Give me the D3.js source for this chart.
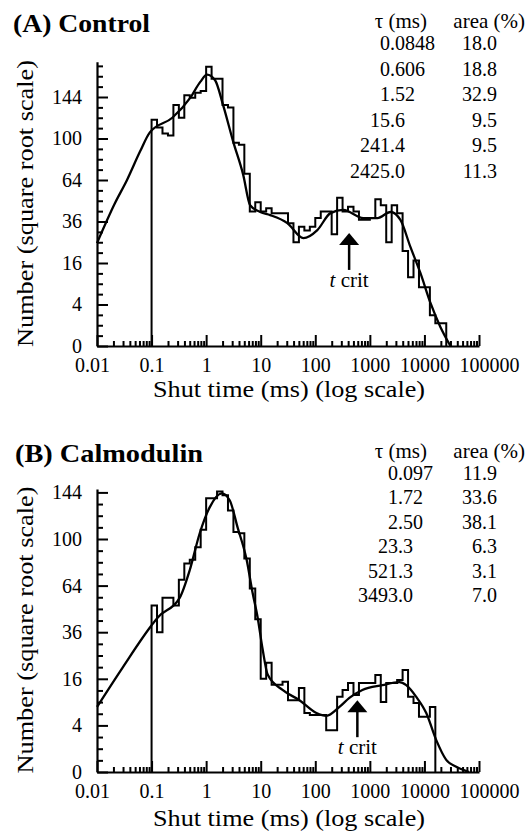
<!DOCTYPE html>
<html><head><meta charset="utf-8">
<script src="https://cdn.jsdelivr.net/npm/d3@7"></script>
<style>
body{margin:0;background:#fff}
svg{display:block}
</style>
</head><body>
<svg id="chart" width="529" height="834"></svg>
<script>
// ---------- DATA ----------
// histogram bins: first bin starts at 0.1 ms, each bin 0.1 log10 units wide
const binStartLog = -1;
const binWidthLog = 0.1;
const controlCounts = [119,111,105,103,135,121,146,143,149,151,
  181,166,166,135,132,96,94,69,42,48,
  42,44,41,41,41,35,25,33,31,33,
  38,42,42,29,51,42,45,42,37,37,
  38,50,46,25,46,41,21,11,17,8,
  8,2.2,1.2,1.2];
const calmodCounts = [51,36,56,56,51,68,80,83,93,108,
  138,138,145,141,126,106,105,84,62,43,
  16,22,14,14,15,9.5,9.5,13,6.4,6,
  6,6,3.2,3.2,10.4,12.4,14.6,10.9,14.6,14.6,
  14.6,17.3,9,14.6,14.6,15.6,19.2,10.4,8.8,5.6,
  5.6,7.8];
// fitted curves
const controlFitTimes  = [0.01,0.0214,0.0355,0.0617,0.093,0.24,0.51,0.78,1.04,1.46,2.04,3.13,4.78,6.4,9.8,14.9,30.7,60.7,109,190,326,760,1380,2390,3630,5530,8430,12900,19600,30000];
const controlFitCounts = [24.6,47.5,64,88,106,121,143,162,171,164,135,97,68,46,41.7,39.8,35.1,27,31.2,41,43,38,38,41.7,36.9,22.8,12.4,4.3,0.84,0];
const calmodFitTimes  = [0.01,0.0299,0.101,0.13,0.329,0.5,0.763,1.16,1.93,2.70,3.78,5.52,7.11,8.78,10.8,13.4,25.1,51.3,105,160,277,421,729,1690,3470,4640,7080,10800,16400,25100,38300,66000];
const calmodFitCounts = [7.8,20.3,39.8,44,56,75,105,129,143,136,110,83,59,44,28,17.5,12.4,9.5,6.4,5.8,7.8,10.1,12.4,13.9,14.9,13.9,10.4,6.4,1.9,0.27,0.05,0];
// axes
const yTickValues = [0,4,16,36,64,100,144];
const xTickValues = [0.01,0.1,1,10,100,1000,10000,100000];
const xTickLabels = ["0.01","0.1","1","10","100","1000","10000","100000"];
// tables
const controlTau  = ["0.0848","0.606","1.52","15.6","241.4","2425.0"];
const controlArea = ["18.0","18.8","32.9","9.5","9.5","11.3"];
const calmodTau   = ["0.097","1.72","2.50","23.3","521.3","3493.0"];
const calmodArea  = ["11.9","33.6","38.1","6.3","3.1","7.0"];
// t crit (ms) and arrow tip level (count)
const tCritMs = [417, 590];
const tCritTip = [29.7, 9.5];

// ---------- FONT PICK ----------
function hasFont(name) {
  const c = document.createElement("canvas").getContext("2d");
  const s = "0123456789 abcdefghijklmnopqrstuvwxyz ABCDEFGHIJ";
  c.font = "40px monospace"; const w1 = c.measureText(s).width;
  c.font = `40px "${name}", monospace`; const w2 = c.measureText(s).width;
  c.font = "40px sans-serif"; const w3 = c.measureText(s).width;
  c.font = `40px "${name}", sans-serif`; const w4 = c.measureText(s).width;
  return w1 !== w2 || w3 !== w4;
}
const fontCands = ["Liberation Serif","Tinos","Times New Roman","DejaVu Serif","Noto Serif"];
let FONT = "serif";
for (const f of fontCands) { if (hasFont(f)) { FONT = f; break; } }
// size factor so that digit widths match (Times-like digits are 0.5em wide)
const cctx = document.createElement("canvas").getContext("2d");
cctx.font = `100px "${FONT}", serif`;
const digitEm = cctx.measureText("0123456789").width / 1000;
const SF = Math.min(1, 0.5 / digitEm);
const fs = v => (v*SF).toFixed(2) + "px";

// ---------- DRAW ----------
const svg = d3.select("#chart").style("font-family", `"${FONT}", serif`);
const X0 = 97, X1 = 479;

const panels = [
  {title:"(A) Control", counts:controlCounts, ft:controlFitTimes, fc:controlFitCounts,
   tau:controlTau, area:controlArea, tcrit:tCritMs[0], tip:tCritTip[0],
   base:346, k:20.75, sMax:13.7, titleX:13, titleY:32, titleLen:137,
   headY:28, rowY0:50, rowDy:25.5, tauDec:390, ylabC:203.5, xlabY:397},
  {title:"(B) Calmodulin", counts:calmodCounts, ft:calmodFitTimes, fc:calmodFitCounts,
   tau:calmodTau, area:calmodArea, tcrit:tCritMs[1], tip:tCritTip[1],
   base:772, k:23.3, sMax:12.15, titleX:15, titleY:462, titleLen:188,
   headY:458, rowY0:480, rowDy:24.4, tauDec:398, ylabC:630, xlabY:826}
];

panels.forEach(p => {
  const x = d3.scaleLog().domain([0.01, 100000]).range([X0, X1]);
  const y = d3.scaleSqrt().domain([0, p.sMax*p.sMax]).range([p.base, p.base - p.sMax*p.k]);
  const g = svg.append("g");

  const ya = g.append("g").attr("transform", `translate(${X0},0)`)
    .call(d3.axisLeft(y).tickValues(yTickValues).tickFormat(d3.format("d"))
      .tickSizeInner(-11).tickSizeOuter(0).tickPadding(15));
  const yMinor = d3.range(0.5, p.sMax, 0.5).filter(s => s % 2 !== 0).map(s => s*s);
  const ym = g.append("g").attr("transform", `translate(${X0},0)`)
    .call(d3.axisLeft(y).tickValues(yMinor).tickFormat("").tickSizeInner(-6).tickSizeOuter(0));
  ym.select(".domain").remove();

  const xa = g.append("g").attr("transform", `translate(0,${p.base})`)
    .call(d3.axisBottom(x).tickValues(xTickValues).tickFormat((d,i) => xTickLabels[i])
      .tickSizeInner(-11).tickSizeOuter(0).tickPadding(12));
  const xMinor = [];
  for (let e = -2; e < 5; e++) for (let m = 2; m <= 9; m++) xMinor.push(m * Math.pow(10, e));
  const xm = g.append("g").attr("transform", `translate(0,${p.base})`)
    .call(d3.axisBottom(x).tickValues(xMinor).tickFormat("").tickSizeInner(-5).tickSizeOuter(0));
  xm.select(".domain").remove();

  [ya, ym, xa, xm].forEach(a => {
    a.attr("font-family", null).attr("font-size", null);
    a.selectAll("path").attr("stroke-width", 2.2);
    a.selectAll("line").attr("stroke-width", 2);
    a.selectAll("text").style("font-size", fs(20));
  });
  xa.selectAll(".tick text").attr("dx", (d,i) => i === 0 ? -5 : (i === xTickValues.length-1 ? 10 : 0));

  // histogram outline
  const pts = [[Math.pow(10, binStartLog), 0]];
  p.counts.forEach((c, i) => {
    const a = Math.pow(10, binStartLog + i*binWidthLog);
    const b = Math.pow(10, binStartLog + (i+1)*binWidthLog);
    pts.push([a, c], [b, c]);
  });
  pts.push([Math.pow(10, binStartLog + p.counts.length*binWidthLog), 0]);
  g.append("path")
    .attr("d", d3.line().x(d => x(d[0])).y(d => y(d[1]))(pts))
    .attr("fill", "none").attr("stroke", "#000").attr("stroke-width", 2)
    .attr("stroke-linejoin", "miter");

  // fitted curve
  const fit = p.ft.map((t, i) => [t, p.fc[i]]);
  g.append("path")
    .attr("d", d3.line().x(d => x(d[0])).y(d => y(d[1])).curve(d3.curveMonotoneX)(fit))
    .attr("fill", "none").attr("stroke", "#000").attr("stroke-width", 2.3);

  // t crit arrow
  const ax = x(p.tcrit), ay = y(p.tip);
  g.append("path")
    .attr("d", `M${ax-10},${ay+12} L${ax},${ay} L${ax+10},${ay+12} Z`)
    .attr("fill", "#000");
  g.append("line").attr("x1", ax).attr("x2", ax).attr("y1", ay+10).attr("y2", ay+37)
    .attr("stroke", "#000").attr("stroke-width", 2.5);
  const tl = g.append("text").attr("x", ax).attr("y", ay+54).attr("text-anchor", "middle")
    .style("font-size", fs(21));
  tl.append("tspan").attr("font-style", "italic").text("t");
  tl.append("tspan").text(" crit");

  // panel title
  g.append("text").attr("x", p.titleX).attr("y", p.titleY)
    .attr("textLength", p.titleLen).attr("lengthAdjust", "spacingAndGlyphs")
    .style("font-size", "25px").style("font-weight", "bold").text(p.title);

  // axis titles
  g.append("text").attr("transform", `translate(33,${p.ylabC}) rotate(-90)`)
    .attr("text-anchor", "middle").attr("textLength", 287).attr("lengthAdjust", "spacingAndGlyphs")
    .style("font-size", fs(24)).text("Number (square root scale)");
  g.append("text").attr("x", 289).attr("y", p.xlabY)
    .attr("text-anchor", "middle").attr("textLength", 272).attr("lengthAdjust", "spacingAndGlyphs")
    .style("font-size", fs(24)).text("Shut time (ms) (log scale)");

  // table
  g.append("text").attr("x", 427).attr("y", p.headY).attr("text-anchor", "end")
    .style("font-size", fs(21)).text("τ (ms)");
  g.append("text").attr("x", 525).attr("y", p.headY).attr("text-anchor", "end")
    .style("font-size", fs(21)).text("area (%)");
  p.tau.forEach((s, i) => {
    const yy = p.rowY0 + i*p.rowDy;
    const parts = s.split(".");
    g.append("text").attr("x", p.tauDec).attr("y", yy).attr("text-anchor", "end")
      .style("font-size", fs(20)).text(parts[0]);
    g.append("text").attr("x", p.tauDec).attr("y", yy).attr("text-anchor", "start")
      .style("font-size", fs(20)).text("." + parts[1]);
    g.append("text").attr("x", 497).attr("y", yy).attr("text-anchor", "end")
      .style("font-size", fs(20)).text(p.area[i]);
  });
});
</script>
</body></html>
